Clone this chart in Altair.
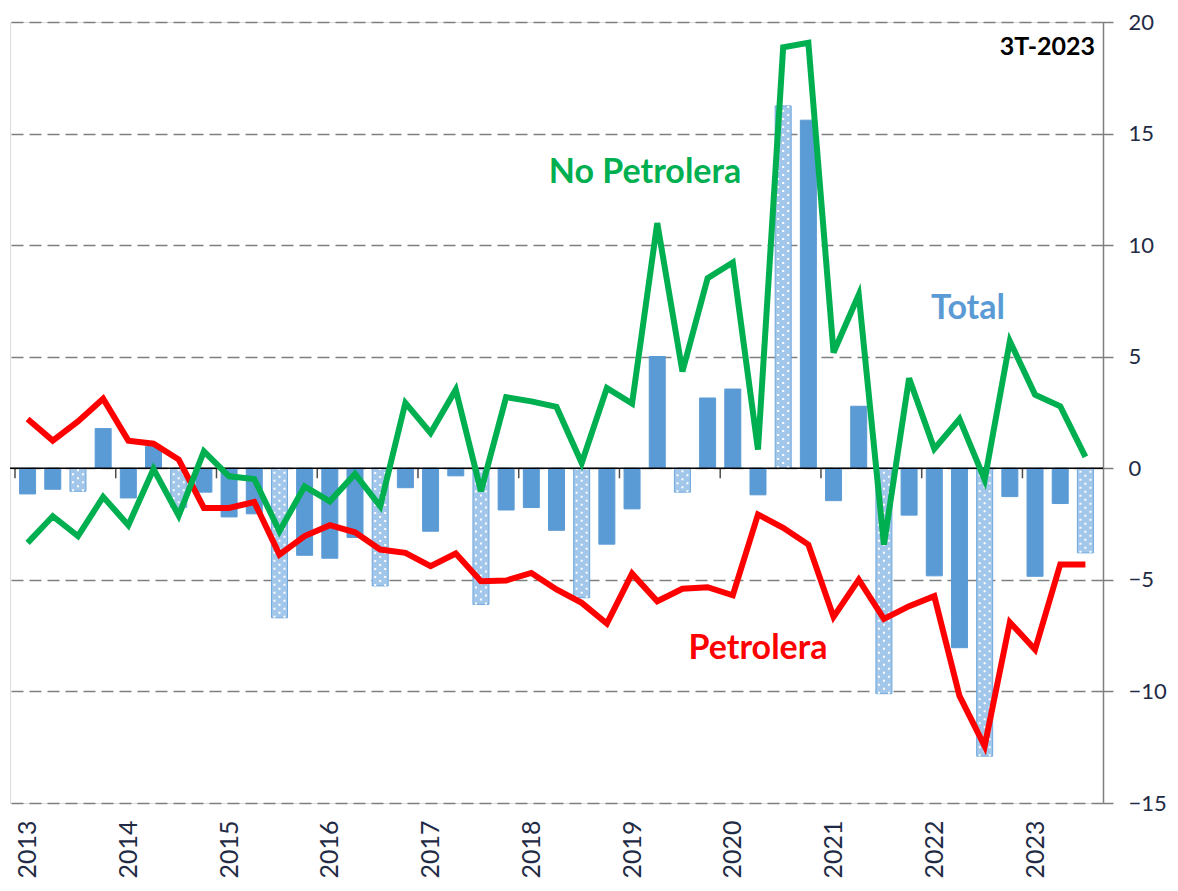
import altair as alt
import pandas as pd

# ---- data ----
years = list(range(2013, 2024))
quarters = [1, 2, 3, 4]

total = [-1.15, -0.94, -1.03, 1.78, -1.33, 0.98, -1.75, -1.07, -2.18, -2.04,
         -6.70, -3.90, -4.03, -3.10, -5.27, -0.87, -2.82, -0.34, -6.10, -1.87,
         -1.76, -2.78, -5.80, -3.40, -1.82, 5.01, -1.07, 3.15, 3.55, -1.19,
         16.24, 15.60, -1.45, 2.78, -10.10, -2.10, -4.82, -8.04, -12.90, -1.27,
         -4.84, -1.58, -3.79]

petrolera = [2.21, 1.24, 2.10, 3.12, 1.24, 1.10, 0.39, -1.78, -1.78, -1.51,
             -3.87, -3.04, -2.55, -2.87, -3.64, -3.79, -4.39, -3.82, -5.06, -5.03,
             -4.69, -5.43, -6.03, -6.96, -4.72, -5.96, -5.40, -5.33, -5.69, -2.07,
             -2.67, -3.42, -6.66, -4.99, -6.75, -6.18, -5.73, -10.20, -12.45, -6.90,
             -8.12, -4.31, -4.31]

no_petrolera = [-3.34, -2.15, -3.04, -1.28, -2.55, -0.03, -2.12, 0.76, -0.36, -0.48,
                -2.82, -0.81, -1.48, -0.25, -1.70, 2.93, 1.58, 3.52, -1.03, 3.19,
                3.00, 2.75, 0.24, 3.60, 2.90, 10.99, 4.34, 8.52, 9.22, 0.84,
                18.87, 19.07, 5.19, 7.78, -3.42, 4.04, 0.87, 2.21, -0.51, 5.69,
                3.30, 2.78, 0.51]

y_ticks = [-15, -10, -5, 0, 5, 10, 15, 20]

periods = [f"{y}T{q}" for y in years for q in quarters][:len(total)]
df = pd.DataFrame({
    "idx": list(range(len(periods))),
    "periodo": periods,
    "Total": total,
    "Petrolera": petrolera,
    "No Petrolera": no_petrolera,
    "tipo": ["T3" if p.endswith("T3") else "otro" for p in periods],
})
year_df = pd.DataFrame({"year": years,
                        "pos": [4 * i - 0.5 for i in range(len(years))]})

FONT = "Lato"
AXIS_COLOR = "#1F2B45"
GRID = "#7F7F7F"

xscale = alt.Scale(domain=[-0.5, len(periods) - 0.5], nice=False, zero=False)
yscale = alt.Scale(domain=[y_ticks[0], y_ticks[-1]], nice=False)

xaxis = alt.Axis(values=[4 * i for i in range(len(years))],
                 labelExpr=f"toString({years[0]} + datum.value / 4)",
                 labelAngle=-90, labelAlign="right", labelBaseline="middle",
                 labelFontSize=25, labelColor=AXIS_COLOR, labelFont=FONT,
                 labelPadding=17, domain=False, ticks=False, grid=False, title=None)
yaxis = alt.Axis(orient="right", values=y_ticks, labelFontSize=22,
                 labelColor=AXIS_COLOR, labelFont=FONT, labelPadding=15,
                 domain=True, domainColor=GRID, domainWidth=1.5,
                 ticks=True, tickSize=10, tickColor=GRID, tickWidth=1.5,
                 grid=True, gridColor=GRID, gridDash=[12, 6], gridWidth=1.6,
                 title=None)

base = alt.Chart(df)

bars = base.mark_bar(size=16, strokeWidth=1).encode(
    x=alt.X("idx:Q", scale=xscale, axis=xaxis),
    y=alt.Y("Total:Q", scale=yscale, axis=yaxis),
    fill=alt.Fill("tipo:N", scale=alt.Scale(domain=["otro", "T3"],
                                             range=["#5B9BD5", "#A2C7EA"]), legend=None),
    stroke=alt.Stroke("tipo:N", scale=alt.Scale(domain=["otro", "T3"],
                                                 range=["#5B9BD5", "#6FA8DC"]), legend=None),
)

# white dotted texture inside the Q3 bars
dot_layers = []
for off, dash_off in [(-5, 0), (0, 4), (5, 0)]:
    dot_layers.append(
        base.transform_filter(alt.datum.tipo == "T3").mark_rule(
            color="white", strokeWidth=2, strokeDash=[2, 6],
            strokeDashOffset=dash_off, xOffset=off
        ).encode(x=alt.X("idx:Q", scale=xscale), y=alt.Y("Total:Q", scale=yscale),
                 y2=alt.datum(0))
    )

zero = alt.Chart(pd.DataFrame({"v": [0]})).mark_rule(color="black", strokeWidth=1.5).encode(
    y=alt.Y("v:Q", scale=yscale))

year_ticks = alt.Chart(year_df).mark_tick(
    orient="vertical", size=10, thickness=1.5, yOffset=5, color="black"
).encode(x=alt.X("pos:Q", scale=xscale), y=alt.datum(0))

red = base.mark_line(color="#FF0000", strokeWidth=6, strokeJoin="miter").encode(
    x=alt.X("idx:Q", scale=xscale), y=alt.Y("Petrolera:Q", scale=yscale))
green = base.mark_line(color="#00B050", strokeWidth=6, strokeJoin="miter").encode(
    x=alt.X("idx:Q", scale=xscale), y=alt.Y("No Petrolera:Q", scale=yscale))

one = pd.DataFrame({"a": [0]})


def label(text, x, y, color, size, align="center"):
    return alt.Chart(one).mark_text(
        text=text, font=FONT, fontWeight="bold", fontSize=size, color=color,
        align=align, baseline="middle"
    ).encode(x=alt.value(x), y=alt.value(y))


labels = [
    label("No Petrolera", 635, 151, "#00B050", 34),
    label("Total", 958, 287, "#5B9BD5", 34),
    label("Petrolera", 748, 627, "#FF0000", 34),
    label("3T-2023", 1085, 25, "#000000", 25, align="right"),
]

chart = alt.layer(bars, *dot_layers, zero, year_ticks, red, green, *labels).properties(
    width=1093, height=781,
    autosize=alt.AutoSizeParams(type="none"),
    padding={"left": 2, "top": 14, "right": 67, "bottom": 76},
).configure_view(stroke=None).configure(font=FONT)

chart.save("out.html", embed_options={"renderer": "svg", "actions": False})
